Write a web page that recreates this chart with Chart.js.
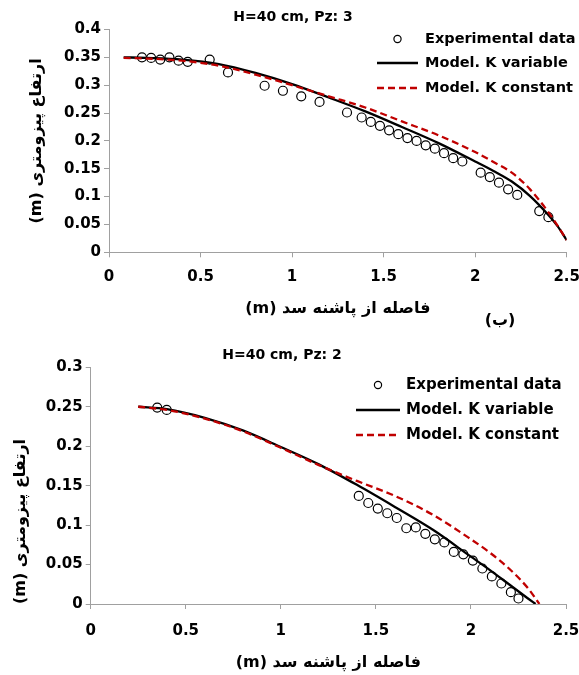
<!DOCTYPE html>
<html>
<head>
<meta charset="utf-8">
<script src="https://cdn.jsdelivr.net/npm/chart.js@4.4.1/dist/chart.umd.min.js"></script>
<style>
  body { margin: 0; background: #fff; }
  .panel { position: absolute; left: 0; width: 579px; }
  #top { top: 0; height: 337px; }
  #bottom { top: 337px; height: 338px; }
</style>
</head>
<body>
<div class="panel" id="top"><canvas id="pz3"></canvas></div>
<div class="panel" id="bottom"><canvas id="pz2"></canvas></div>
<script>
const AXIS = '#a0a0a0';
const RED = '#c00000';
const FONT = "'DejaVu Sans', sans-serif";

const seriesLabels = ['Experimental data', 'Model. K variable', 'Model. K constant'];
const xTitle = '\u202Bفاصله از پاشنه سد (m)\u202C';
const yTitle = '\u202Bارتفاع پیزومتری (m)\u202C';
const xTicks = [0, 0.5, 1, 1.5, 2, 2.5];

// piezometer 3
const pz3Title = 'H=40 cm, Pz: 3';
const pz3YTicks = [0, 0.05, 0.1, 0.15, 0.2, 0.25, 0.3, 0.35, 0.4];
const pz3ObsX = [0.18, 0.23, 0.28, 0.33, 0.38, 0.43, 0.55, 0.65, 0.85, 0.95, 1.05, 1.15, 1.30, 1.38, 1.43, 1.48,
                 1.53, 1.58, 1.63, 1.68, 1.73, 1.78, 1.83, 1.88, 1.93, 2.03, 2.08, 2.13, 2.18, 2.23, 2.35, 2.40];
const pz3ObsH = [0.350, 0.349, 0.346, 0.350, 0.344, 0.342, 0.346, 0.323, 0.299, 0.290, 0.280, 0.270, 0.251, 0.242, 0.234, 0.227,
                 0.219, 0.212, 0.205, 0.200, 0.192, 0.186, 0.178, 0.169, 0.163, 0.143, 0.135, 0.125, 0.113, 0.103, 0.074, 0.063];
const pz3ModelX = [0.08, 0.2, 0.4, 0.6, 0.8, 1.0, 1.2, 1.4, 1.6, 1.8, 2.0, 2.1, 2.2, 2.3, 2.4, 2.45, 2.5];
const pz3VarH   = [0.350, 0.349, 0.346, 0.338, 0.322, 0.302, 0.278, 0.253, 0.225, 0.196, 0.163, 0.146, 0.127, 0.101, 0.067, 0.047, 0.022];
const pz3ConstH = [0.349, 0.348, 0.344, 0.335, 0.319, 0.300, 0.280, 0.260, 0.235, 0.210, 0.180, 0.162, 0.143, 0.113, 0.072, 0.048, 0.022];

// piezometer 2
const pz2Title = 'H=40 cm, Pz: 2';
const pz2YTicks = [0, 0.05, 0.1, 0.15, 0.2, 0.25, 0.3];
const pz2ObsX = [0.35, 0.40, 1.41, 1.46, 1.51, 1.56, 1.61, 1.66, 1.71, 1.76, 1.81, 1.86, 1.91, 1.96, 2.01, 2.06, 2.11, 2.16, 2.21, 2.25];
const pz2ObsH = [0.249, 0.246, 0.137, 0.128, 0.121, 0.115, 0.109, 0.096, 0.097, 0.089, 0.082, 0.078, 0.066, 0.063, 0.055, 0.045,
                 0.035, 0.026, 0.015, 0.007];
const pz2VarX   = [0.25, 0.4, 0.6, 0.8, 1.0, 1.2, 1.4, 1.6, 1.8, 2.0, 2.1, 2.2, 2.3, 2.34];
const pz2VarH   = [0.250, 0.247, 0.236, 0.220, 0.199, 0.177, 0.151, 0.123, 0.094, 0.060, 0.043, 0.025, 0.007, 0];
const pz2ConstX = [0.25, 0.4, 0.6, 0.8, 1.0, 1.2, 1.4, 1.6, 1.8, 2.0, 2.1, 2.2, 2.3, 2.36];
const pz2ConstH = [0.250, 0.246, 0.235, 0.219, 0.198, 0.176, 0.156, 0.137, 0.113, 0.082, 0.065, 0.045, 0.020, 0];

function pairs(xs, ys) {
  return xs.map((x, i) => ({ x: x, y: ys[i] }));
}

// chart title, legend and panel tag drawn on top of the plot
const figureText = {
  id: 'figureText',
  afterDraw(chart, args, opts) {
    const ctx = chart.ctx;
    ctx.save();
    ctx.fillStyle = '#000';
    ctx.textBaseline = 'middle';
    ctx.textAlign = 'center';
    ctx.font = 'bold ' + opts.titleSize + 'px ' + FONT;
    ctx.fillText(opts.title, opts.titleX, opts.titleY);

    const lg = opts.legend;
    ctx.font = 'bold ' + lg.size + 'px ' + FONT;
    ctx.textAlign = 'left';
    chart.data.datasets.forEach((ds, i) => {
      const y = lg.rows[i];
      ctx.beginPath();
      if (ds.showLine) {
        ctx.setLineDash(ds.borderDash || []);
        ctx.lineWidth = ds.borderWidth;
        ctx.strokeStyle = ds.borderColor;
        ctx.moveTo(lg.x0, y);
        ctx.lineTo(lg.x1, y);
        ctx.stroke();
        ctx.setLineDash([]);
      } else {
        ctx.arc((lg.x0 + lg.x1) / 2, y, lg.markR, 0, Math.PI * 2);
        ctx.fillStyle = ds.backgroundColor;
        ctx.fill();
        ctx.lineWidth = ds.borderWidth;
        ctx.strokeStyle = ds.borderColor;
        ctx.stroke();
      }
      ctx.fillStyle = '#000';
      ctx.fillText(ds.label, lg.textX, y);
    });

    if (opts.tag) {
      ctx.textAlign = 'center';
      ctx.font = 'bold ' + opts.tag.size + 'px ' + FONT;
      ctx.fillText(opts.tag.text, opts.tag.x, opts.tag.y);
    }
    ctx.restore();
  }
};

function makeChart(id, o) {
  return new Chart(document.getElementById(id), {
    type: 'scatter',
    data: {
      datasets: [{
        label: seriesLabels[0],
        data: pairs(o.obsX, o.obsH),
        showLine: false,
        pointRadius: o.pointR,
        pointBackgroundColor: '#fff',
        backgroundColor: '#fff',
        borderColor: '#000',
        borderWidth: 1.2,
        order: 3
      }, {
        label: seriesLabels[1],
        data: pairs(o.varX, o.varH),
        showLine: true,
        pointRadius: 0,
        borderColor: '#000',
        borderWidth: 2.3,
        cubicInterpolationMode: 'monotone',
        order: 2
      }, {
        label: seriesLabels[2],
        data: pairs(o.constX, o.constH),
        showLine: true,
        pointRadius: 0,
        borderColor: RED,
        borderWidth: 2.3,
        borderDash: [7, 4],
        cubicInterpolationMode: 'monotone',
        order: 1
      }]
    },
    options: {
      responsive: true,
      maintainAspectRatio: false,
      animation: false,
      layout: { padding: { top: o.padTop, right: o.padRight, bottom: 0, left: 0 } },
      plugins: {
        legend: { display: false },
        tooltip: { enabled: false },
        figureText: o.text
      },
      scales: {
        x: {
          type: 'linear',
          min: 0,
          max: 2.5,
          border: { color: AXIS, width: 1 },
          grid: { drawOnChartArea: false, tickLength: 5, tickColor: AXIS },
          afterBuildTicks: s => { s.ticks = xTicks.map(v => ({ value: v })); },
          ticks: {
            color: '#000',
            font: { family: FONT, size: 15, weight: 'bold' },
            padding: o.xTickPad,
            maxRotation: 0,
            callback: v => String(+v.toFixed(2))
          },
          title: {
            display: true,
            text: xTitle,
            color: '#000',
            font: { family: FONT, size: 16, weight: 'bold' },
            padding: { top: 0, bottom: o.xTitlePad }
          },
          afterFit: s => { s.height = o.xHeight; s.paddingLeft = 0; s.paddingRight = 0; }
        },
        y: {
          type: 'linear',
          min: 0,
          max: o.yTicks[o.yTicks.length - 1],
          border: { color: AXIS, width: 1 },
          grid: { drawOnChartArea: false, tickLength: 5, tickColor: AXIS },
          afterBuildTicks: s => { s.ticks = o.yTicks.map(v => ({ value: v })); },
          ticks: {
            color: '#000',
            font: { family: FONT, size: 15, weight: 'bold' },
            padding: 3,
            callback: v => String(+v.toFixed(2))
          },
          title: {
            display: true,
            text: yTitle,
            align: o.yTitleAlign,
            color: '#000',
            font: { family: FONT, size: 16, weight: 'bold' },
            padding: { top: o.yTitlePad, bottom: 0 }
          },
          afterFit: s => { s.width = o.yWidth; s.paddingTop = 0; s.paddingBottom = 0; }
        }
      }
    },
    plugins: [figureText]
  });
}

makeChart('pz3', {
  obsX: pz3ObsX, obsH: pz3ObsH,
  varX: pz3ModelX, varH: pz3VarH,
  constX: pz3ModelX, constH: pz3ConstH,
  yTicks: pz3YTicks,
  pointR: 4.5,
  padTop: 29.5, padRight: 12.3,
  yWidth: 109, xHeight: 84.7,
  xTickPad: 11, xTitlePad: 19,
  yTitlePad: 27, yTitleAlign: 'center',
  text: {
    title: pz3Title, titleSize: 14, titleX: 293, titleY: 17,
    legend: { size: 14.5, x0: 377, x1: 418, textX: 425, rows: [39, 63, 88], markR: 3.6 },
    tag: { text: '(ب)', size: 16, x: 500, y: 321 }
  }
});

makeChart('pz2', {
  obsX: pz2ObsX, obsH: pz2ObsH,
  varX: pz2VarX, varH: pz2VarH,
  constX: pz2ConstX, constH: pz2ConstH,
  yTicks: pz2YTicks,
  pointR: 4.5,
  padTop: 30.3, padRight: 13,
  yWidth: 90.7, xHeight: 71,
  xTickPad: 13, xTitlePad: 3,
  yTitlePad: 11, yTitleAlign: 'start',
  text: {
    title: pz2Title, titleSize: 14, titleX: 282, titleY: 18,
    legend: { size: 15, x0: 356, x1: 400, textX: 406, rows: [48, 73, 98], markR: 3.6 }
  }
});
</script>
</body>
</html>
